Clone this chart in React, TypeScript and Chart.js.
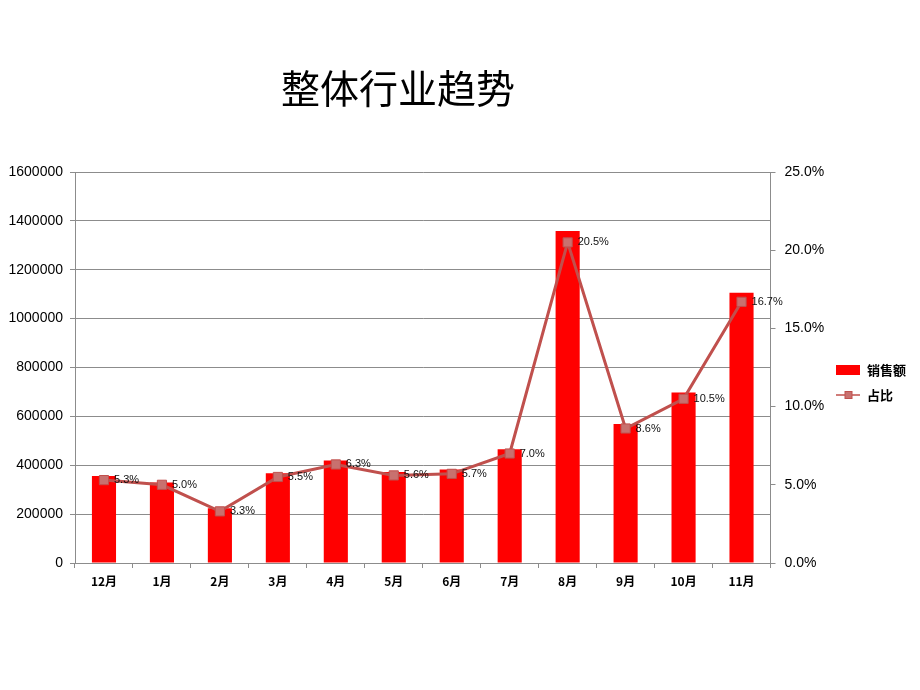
import React, { useEffect, useRef } from "react";
import { Chart, registerables } from "chart.js";

Chart.register(...registerables);

const titleText = "整体行业趋势";
const categories = ["12月", "1月", "2月", "3月", "4月", "5月", "6月", "7月", "8月", "9月", "10月", "11月"];
const salesValues = [356000, 329000, 224000, 367000, 419000, 372000, 383000, 465000, 1359000, 569000, 698000, 1106000];
const shareValues = [5.3, 5.0, 3.3, 5.5, 6.3, 5.6, 5.7, 7.0, 20.5, 8.6, 10.5, 16.7];
const seriesNames = ["销售额", "占比"];
const leftAxisMax = 1600000;
const leftAxisStep = 200000;
const rightAxisMax = 25;
const rightAxisStep = 5;

const BAR_COLOR = "#FF0000";
const LINE_COLOR = "#C0504D";
const MARKER_FILL = "#C8716F";
const GRID_COLOR = "#8C8C8C";
const AXIS_FONT = "'Liberation Sans', Arial, sans-serif";
const CJK_FONT = "'Noto Sans CJK SC', 'Noto Sans', sans-serif";

function makeBarSwatch() {
  const c = document.createElement("canvas");
  c.width = 24;
  c.height = 10;
  const ctx = c.getContext("2d")!;
  ctx.fillStyle = BAR_COLOR;
  ctx.fillRect(0, 0, 24, 10);
  return c;
}

function makeLineSwatch() {
  const c = document.createElement("canvas");
  c.width = 24;
  c.height = 10;
  const ctx = c.getContext("2d")!;
  ctx.strokeStyle = LINE_COLOR;
  ctx.lineWidth = 1.5;
  ctx.beginPath();
  ctx.moveTo(0, 5);
  ctx.lineTo(24, 5);
  ctx.stroke();
  ctx.fillStyle = MARKER_FILL;
  ctx.fillRect(8, 1, 8, 8);
  ctx.strokeStyle = LINE_COLOR;
  ctx.lineWidth = 1;
  ctx.strokeRect(8.5, 1.5, 7, 7);
  return c;
}

const titlePlugin = {
  id: "customTitle",
  afterDraw(chart: any) {
    const ctx = chart.ctx;
    ctx.save();
    ctx.font = `400 39px ${CJK_FONT}`;
    ctx.fillStyle = "#000";
    ctx.textAlign = "center";
    ctx.textBaseline = "middle";
    ctx.fillText(titleText, chart.width * 0.4326, 88);
    ctx.restore();
  },
};

const pointLabelPlugin = {
  id: "pointLabels",
  afterDatasetsDraw(chart: any) {
    const meta = chart.getDatasetMeta(1);
    const ctx = chart.ctx;
    ctx.save();
    ctx.font = `11px ${AXIS_FONT}`;
    ctx.fillStyle = "#111";
    ctx.textAlign = "left";
    ctx.textBaseline = "middle";
    meta.data.forEach((pt: any, i: number) => {
      ctx.fillText(shareValues[i].toFixed(1) + "%", pt.x + 10, pt.y);
    });
    ctx.restore();
  },
};

export default function App() {
  const ref = useRef<HTMLCanvasElement>(null);

  useEffect(() => {
    if (!ref.current) return;
    const barSwatch = makeBarSwatch();
    const lineSwatch = makeLineSwatch();
    const chart = new Chart(ref.current, {
      data: {
        labels: categories,
        datasets: [
          {
            type: "bar",
            label: seriesNames[0],
            data: salesValues,
            backgroundColor: BAR_COLOR,
            borderWidth: 0,
            yAxisID: "y",
            barPercentage: 0.52,
            categoryPercentage: 0.8,
            order: 2,
          },
          {
            type: "line",
            label: seriesNames[1],
            data: shareValues,
            borderColor: LINE_COLOR,
            borderWidth: 3,
            pointStyle: "rect",
            pointRadius: 6.5,
            pointBackgroundColor: MARKER_FILL,
            pointBorderColor: LINE_COLOR,
            pointBorderWidth: 1,
            tension: 0,
            yAxisID: "y1",
            order: 1,
          },
        ],
      } as any,
      options: {
        responsive: false,
        animation: false,
        layout: { padding: { top: 172, bottom: 97, left: 0, right: 4 } },
        plugins: {
          title: { display: false },
          tooltip: { enabled: false },
          legend: {
            position: "right",
            align: "center",
            labels: {
              usePointStyle: true,
              pointStyleWidth: 24,
              boxHeight: 10,
              padding: 12,
              color: "#000",
              font: { family: CJK_FONT, size: 13, weight: "bold" },
              generateLabels: () => [
                { text: seriesNames[0], pointStyle: barSwatch, fillStyle: BAR_COLOR, strokeStyle: BAR_COLOR, lineWidth: 0, datasetIndex: 0, hidden: false },
                { text: seriesNames[1], pointStyle: lineSwatch, fillStyle: LINE_COLOR, strokeStyle: LINE_COLOR, lineWidth: 0, datasetIndex: 1, hidden: false },
              ] as any,
            },
          },
        },
        scales: {
          x: {
            offset: true,
            grid: { display: true, drawOnChartArea: false, drawTicks: true, tickLength: 5, color: GRID_COLOR, offset: true },
            border: { color: GRID_COLOR },
            ticks: { color: "#000", padding: 6, font: { family: CJK_FONT, size: 12, weight: "bold" } },
            afterFit: (s: any) => { s.height = 30; },
          },
          y: {
            position: "left",
            min: 0,
            max: leftAxisMax,
            ticks: { stepSize: leftAxisStep, color: "#000", padding: 7, font: { family: AXIS_FONT, size: 14 }, callback: (v: any) => String(v) },
            grid: { color: GRID_COLOR, tickLength: 5, drawTicks: true },
            border: { color: GRID_COLOR },
            afterFit: (s: any) => { s.width = 75; },
          },
          y1: {
            position: "right",
            min: 0,
            max: rightAxisMax,
            ticks: { stepSize: rightAxisStep, color: "#000", padding: 9, font: { family: AXIS_FONT, size: 14 }, callback: (v: any) => Number(v).toFixed(1) + "%" },
            grid: { drawOnChartArea: false, drawTicks: true, tickLength: 5, color: GRID_COLOR },
            border: { color: GRID_COLOR },
            afterFit: (s: any) => { s.width = 54; },
          },
        },
      } as any,
      plugins: [titlePlugin, pointLabelPlugin],
    });
    return () => chart.destroy();
  }, []);

  return (
    <div style={{ position: "absolute", left: 0, top: 0, width: 920, height: 690, background: "#fff" }}>
      <canvas ref={ref} width={920} height={690} style={{ display: "block" }} />
    </div>
  );
}
